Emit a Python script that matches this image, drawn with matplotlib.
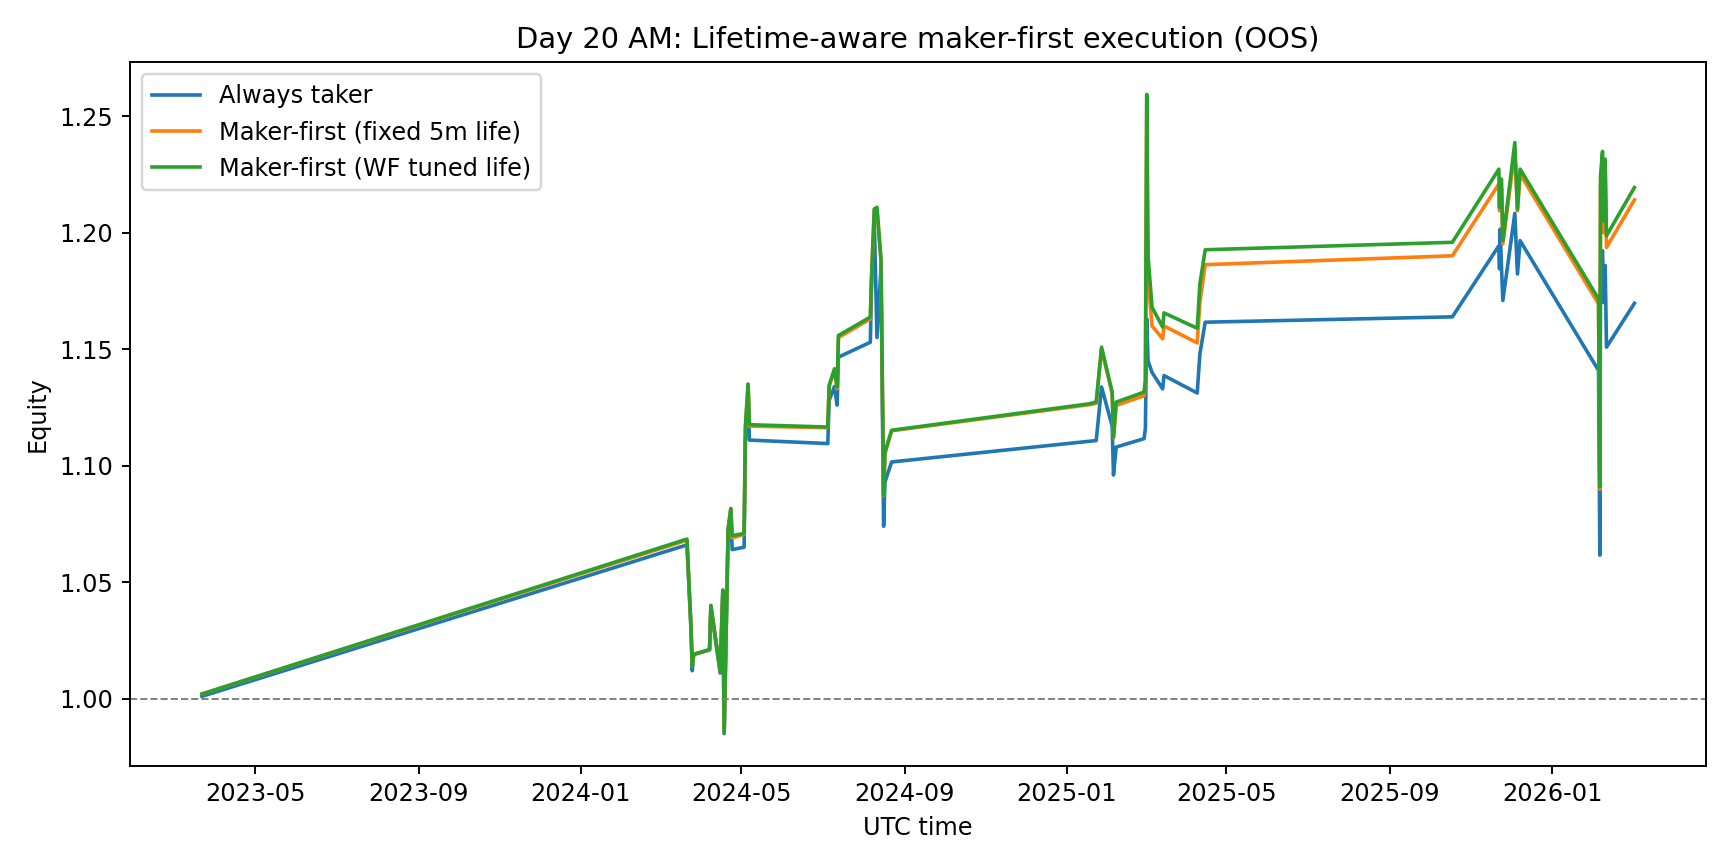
import pandas as pd
import matplotlib
matplotlib.use("Agg")
import matplotlib.pyplot as plt

# timestamps of the OOS trades (same for all three series)
times = [
    "2023-03-22", "2024-03-21", "2024-03-24", "2024-03-25", "2024-03-26",
    "2024-04-07", "2024-04-08", "2024-04-15", "2024-04-17", "2024-04-18",
    "2024-04-21", "2024-04-23", "2024-04-24", "2024-05-03", "2024-05-04",
    "2024-05-06", "2024-05-07", "2024-07-05", "2024-07-06", "2024-07-10",
    "2024-07-12", "2024-07-13", "2024-08-06", "2024-08-07", "2024-08-09",
    "2024-08-11", "2024-08-14", "2024-08-16", "2024-08-17", "2024-08-22",
    "2025-01-18", "2025-01-23", "2025-01-27", "2025-02-04", "2025-02-05",
    "2025-02-07", "2025-02-28", "2025-03-01", "2025-03-02", "2025-03-03",
    "2025-03-06", "2025-03-14", "2025-03-15", "2025-04-09", "2025-04-11",
    "2025-04-15", "2025-10-18", "2025-11-22 00:00", "2025-11-22 12:00",
    "2025-11-23", "2025-11-24", "2025-11-25", "2025-12-04", "2025-12-06",
    "2025-12-08", "2026-02-05", "2026-02-06 00:00", "2026-02-06 12:00",
    "2026-02-08", "2026-02-09", "2026-02-10", "2026-02-11", "2026-03-04",
]

taker = [
    1.001, 1.066, 1.030, 1.012, 1.019,
    1.021, 1.039, 1.011, 1.046, 0.985,
    1.072, 1.080, 1.064, 1.065, 1.111,
    1.130, 1.111, 1.1095, 1.128, 1.134,
    1.126, 1.1466, 1.153, 1.180, 1.205,
    1.155, 1.185, 1.074, 1.093, 1.1016,
    1.1105, 1.1108, 1.1338, 1.117, 1.096,
    1.108, 1.1116, 1.116, 1.163, 1.145,
    1.140, 1.133, 1.1387, 1.1312, 1.148,
    1.1616, 1.1639, 1.1944, 1.1845,
    1.2016, 1.185, 1.1709, 1.2083, 1.1823,
    1.1966, 1.1409, 1.0616, 1.185,
    1.1923, 1.170, 1.1859, 1.1509, 1.1697,
]

maker_fixed = [
    1.002, 1.068, 1.031, 1.014, 1.019,
    1.021, 1.040, 1.012, 1.0466, 0.9856,
    1.073, 1.0816, 1.069, 1.0705, 1.116,
    1.135, 1.117, 1.1163, 1.134, 1.141,
    1.133, 1.155, 1.163, 1.182, 1.210,
    1.210, 1.188, 1.087, 1.105, 1.115,
    1.1262, 1.1268, 1.150, 1.131, 1.112,
    1.1259, 1.130, 1.136, 1.255, 1.180,
    1.160, 1.1545, 1.160, 1.1527, 1.170,
    1.1863, 1.1901, 1.2209, 1.2095,
    1.215, 1.219, 1.1952, 1.235, 1.2094,
    1.2252, 1.1695, 1.0899, 1.220,
    1.230, 1.200, 1.228, 1.1937, 1.2141,
]

maker_wf = [
    1.002, 1.0685, 1.0316, 1.014, 1.019,
    1.021, 1.040, 1.012, 1.0466, 0.9856,
    1.073, 1.0816, 1.070, 1.0709, 1.117,
    1.135, 1.1176, 1.1166, 1.1345, 1.1416,
    1.1338, 1.1559, 1.1638, 1.1823, 1.2102,
    1.2109, 1.1887, 1.0873, 1.1059, 1.1152,
    1.1266, 1.1273, 1.1509, 1.1316, 1.1123,
    1.1273, 1.1316, 1.1366, 1.2594, 1.190,
    1.168, 1.1595, 1.1656, 1.159, 1.178,
    1.1927, 1.1959, 1.2273, 1.2109,
    1.223, 1.223, 1.1966, 1.2387, 1.2101,
    1.2273, 1.1716, 1.0909, 1.2244,
    1.2349, 1.205, 1.2316, 1.1987, 1.2194,
]

t = pd.to_datetime(times, format="mixed")

fig, ax = plt.subplots(figsize=(10, 5), dpi=173.2)
ax.plot(t, taker, label="Always taker")
ax.plot(t, maker_fixed, label="Maker-first (fixed 5m life)")
ax.plot(t, maker_wf, label="Maker-first (WF tuned life)")
ax.axhline(1.0, color="gray", linestyle="--", linewidth=0.8)
ax.set_title("Day 20 AM: Lifetime-aware maker-first execution (OOS)")
ax.set_xlabel("UTC time")
ax.set_ylabel("Equity")
ax.legend(loc="upper left")
fig.tight_layout()
fig.savefig("out.png")
